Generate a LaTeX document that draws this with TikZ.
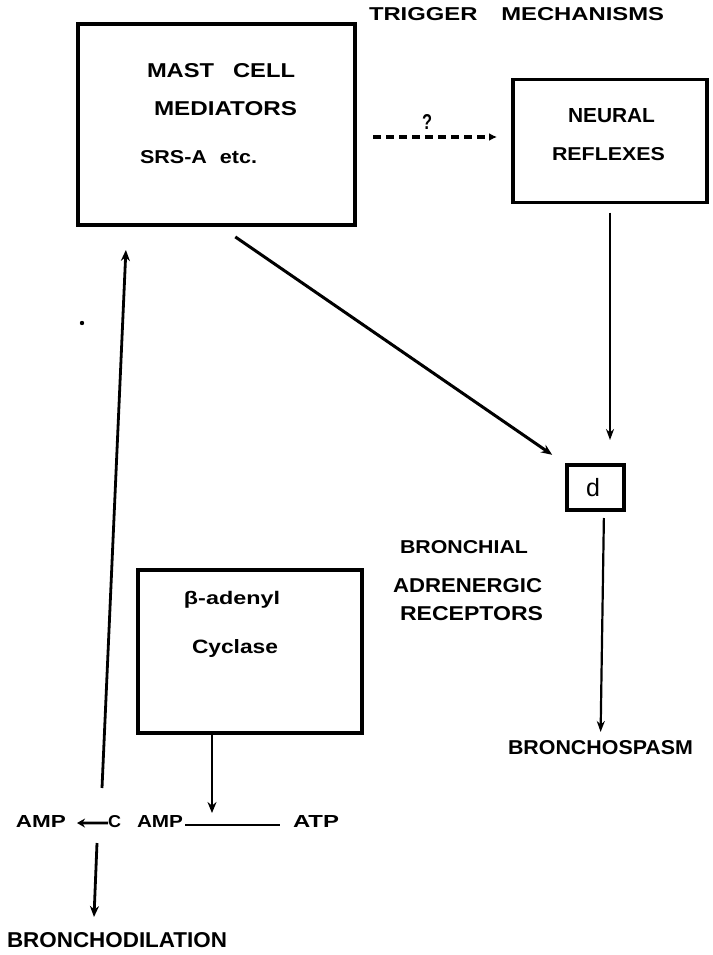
\documentclass[tikz,border=0pt]{standalone}
\usepackage{fontspec}
\usepackage{graphicx}
\setmainfont{Liberation Sans}
\usetikzlibrary{arrows.meta,calc}
\newcommand\fitlab[3]{\resizebox{#1pt}{#2pt}{\bfseries #3}}
\newcommand\fitlabt[3]{\resizebox*{#1pt}{#2pt}{\bfseries #3}}
\begin{document}
\begin{tikzpicture}[x=1pt,y=-1pt,
  box/.style={draw, line width=3.2pt, inner sep=0pt, outer sep=0pt},
  lab/.style={inner sep=0pt, outer sep=0pt, anchor=base west},
  arr/.style={line width=2.8pt, -{Stealth[length=11pt,width=9pt]}},
  thinarr/.style={line width=2.2pt, -{Stealth[length=11pt,width=8pt]}},
  dasharr/.style={line width=3.2pt, dash pattern=on 8pt off 5pt, -{Latex[length=8pt,width=8pt]}},
  smallarr/.style={line width=2.8pt, -{Stealth[length=8pt,width=9pt]}}]
\useasboundingbox (0,0) rectangle (712,955);
\fill[white] (0,0) rectangle (712,955);

% boxes
\node[box, minimum width=277pt, minimum height=201pt] (mast) at (216.5,124.5) {};
\node[box, minimum width=194pt, minimum height=123pt] (neural) at (610,141) {};
\node[box, minimum width=57pt, minimum height=45pt] (alphabox) at (595.5,487.5) {};
\node[box, minimum width=224pt, minimum height=163pt] (beta) at (250,651.5) {};

% labels
\node[lab] (trig) at (369,21) {\fitlab{295}{13}{TRIGGER\hspace{1em}MECHANISMS}};
\node[lab] (mc) at (147,78) {\fitlab{148}{14}{MAST\hspace{0.8em}CELL}};
\node[lab] (med) at (154,116) {\fitlab{143}{14}{MEDIATORS}};
\node[lab] (srs) at (140,163) {\fitlab{117}{13}{SRS-A\hspace{0.6em}etc.}};
\node[lab] (q) at (422,130) {\fitlab{10}{15}{?}};
\node[lab] (neu) at (568,122) {\fitlab{87}{14}{NEURAL}};
\node[lab] (ref) at (552,160) {\fitlab{113}{13}{REFLEXES}};
\node[inner sep=0pt] (alpha) at (593,488) {\fontsize{25}{25}\selectfont d};
\node[lab] (bron) at (400,553) {\fitlab{128}{13}{BRONCHIAL}};
\node[lab] (adr) at (393,592) {\fitlab{149}{14}{ADRENERGIC}};
\node[lab] (rec) at (400,620) {\fitlab{143}{14}{RECEPTORS}};
\node[lab] (spasm) at (508,754) {\fitlab{185}{14}{BRONCHOSPASM}};
\node[inner sep=0pt] (badn) at (232,600) {\fitlabt{96}{17}{β-adenyl}};
\node[lab] (cyc) at (192,653) {\fitlab{86}{14}{Cyclase}};
\node[lab] (ampl) at (16,827) {\fitlab{50}{12}{AMP}};
\node[lab] (cc) at (108,827) {\fitlab{13}{12}{C}};
\node[lab] (ampc) at (137,827) {\fitlab{46}{12}{AMP}};
\node[lab] (atp) at (293,827) {\fitlab{46}{12}{ATP}};
\node[lab] (dil) at (7,947) {\fitlab{220}{15}{BRONCHODILATION}};

% connectors
\draw[dasharr, shorten <=18pt, shorten >=16pt] (mast.east |- 0,137) -- (neural.west |- 0,137);
\draw[thinarr, shorten <=10pt, shorten >=25pt] (neural.south) -- (neural.south |- alphabox.north);
\draw[arr, line width=3pt, shorten <=21pt, shorten >=18pt] ($(mast.south west)+(140,0)$) -- (alphabox.north west);
\draw[thinarr, shorten <=8pt, shorten >=8pt] ($(alphabox.south)+(8.5,0)$) -- (spasm.north);
\coordinate (j) at (212,826);
\draw[arr, shorten >=13pt] (beta.south -| j) -- (j);
\draw[line width=2.8pt, shorten <=2pt, shorten >=13pt] ([yshift=-4pt]ampc.east) -- ([yshift=-4pt]atp.west);
\draw[smallarr, shorten >=11pt] ([yshift=-2pt]cc.west) -- ([yshift=-2pt]ampl.east);
\coordinate (u) at (102,788);
\draw[arr, shorten >=25pt] (u) -- ($(mast.south west)+(49,0)$);
\coordinate (v) at (97,843);
\coordinate (vt) at (94,917);
\draw[arr] (v) -- (vt);
\fill (82,323) circle (2.2pt);
\end{tikzpicture}
\end{document}
